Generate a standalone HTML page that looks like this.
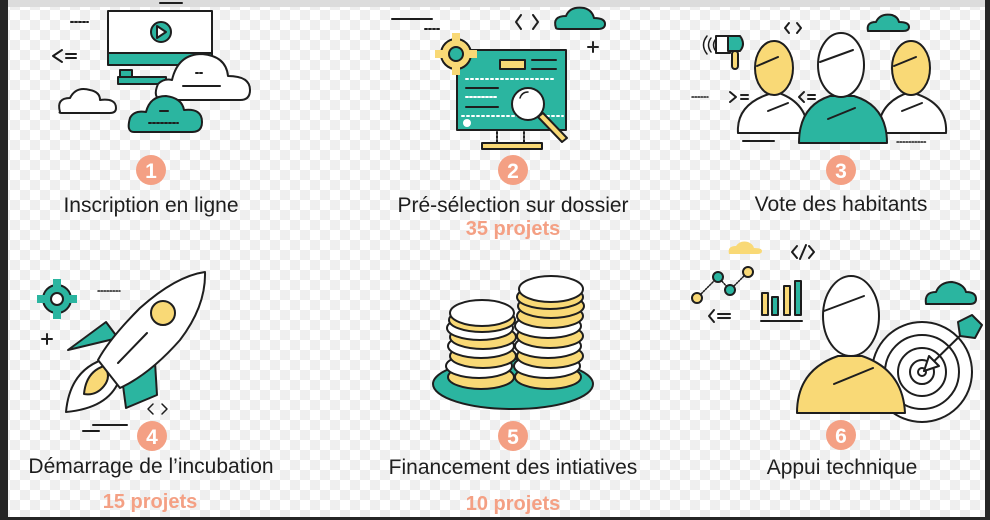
<!DOCTYPE html>
<html><head><meta charset="utf-8"><style>
html,body{margin:0;padding:0}
body{width:990px;height:520px;overflow:hidden;position:relative;
background-color:#fff;
background-image:linear-gradient(45deg,#efefef 25%,transparent 25%,transparent 75%,#efefef 75%),linear-gradient(45deg,#efefef 25%,transparent 25%,transparent 75%,#efefef 75%);
background-size:20px 20px;background-position:0 0,10px 10px;}
svg{position:absolute;left:0;top:0}
text{font-family:"Liberation Sans",sans-serif}
</style></head><body>
<svg width="990" height="520" viewBox="0 0 990 520">
<rect x="0" y="0" width="990" height="7" fill="#dcdcdc"/>
<rect x="0" y="0" width="8" height="520" fill="#262626"/>
<rect x="985" y="0" width="5" height="520" fill="#262626"/>
<rect x="0" y="517" width="990" height="3" fill="#262626"/>

<g stroke="#1e1e1e" stroke-width="2" stroke-linejoin="round" stroke-linecap="round">
<!-- Panel 1 -->
<line x1="160" y1="3" x2="182" y2="3"/>
<line x1="71" y1="22" x2="88" y2="22" stroke-dasharray="2 2"/>
<path d="M62 50 L53 56 L62 62" fill="none"/>
<line x1="66" y1="54" x2="76" y2="54"/><line x1="66" y1="58" x2="76" y2="58"/>
<rect x="120" y="70" width="12" height="10" fill="#2bb5a0"/>
<rect x="118" y="77" width="48" height="7" fill="#2bb5a0"/>
<rect x="108" y="11" width="104" height="44" fill="#fff"/>
<rect x="108" y="53" width="104" height="12" fill="#2bb5a0"/>
<circle cx="161" cy="32" r="10" fill="#2bb5a0"/>
<path d="M157 26 L166 32 L157 38 Z" fill="#fff"/>
<path d="M60 112 Q56 98 70 98 Q76 86 90 90 Q100 92 100 100 Q116 98 116 108 Q116 113 110 113 L64 113 Q58 113 60 112Z" fill="#fff"/>
<path d="M162 100 Q152 98 158 84 Q164 78 172 80 Q178 54 202 54 Q226 56 228 76 Q250 76 250 90 Q250 100 240 100 Z" fill="#fff"/>
<line x1="183" y1="86" x2="220" y2="86"/>
<line x1="196" y1="73" x2="204" y2="73" stroke-dasharray="2 2"/>
<path d="M134 132 Q126 132 130 118 Q134 110 146 112 Q150 96 166 96 Q182 98 184 110 Q202 108 202 122 Q202 132 192 132 Z" fill="#2bb5a0"/>
<line x1="160" y1="111" x2="168" y2="111"/>
<line x1="149" y1="123" x2="178" y2="123" stroke-dasharray="2 2"/>

<!-- Panel 2 -->
<line x1="392" y1="19" x2="432" y2="19"/>
<line x1="425" y1="29" x2="440" y2="29" stroke-dasharray="2 2"/>
<path d="M521 15 L516 22 L521 29 M533 15 L538 22 L533 29" fill="none"/>
<path d="M556 28 Q552 16 566 16 Q570 6 584 8 Q592 10 594 18 Q605 18 605 24 Q605 29 598 29 L560 29 Q556 29 556 28Z" fill="#2bb5a0"/>
<line x1="593" y1="42" x2="593" y2="52"/><line x1="588" y1="47" x2="598" y2="47"/>
<rect x="457" y="50" width="109" height="80" fill="#2bb5a0"/>
<g fill="#f9d976"><circle cx="456" cy="54" r="15"/>
<path d="M452 33h8v8h-8zM452 67h8v8h-8zM435 50h8v8h-8zM469 50h8v8h-8z" stroke="none"/>
</g>
<circle cx="456" cy="54" r="7" fill="#2bb5a0"/>
<rect x="500" y="60" width="25" height="9" fill="#f9d976"/>
<line x1="532" y1="60" x2="556" y2="60"/><line x1="532" y1="69" x2="556" y2="69"/>
<line x1="466" y1="79" x2="556" y2="79" stroke="#fff" stroke-dasharray="2 3"/>
<line x1="466" y1="88" x2="498" y2="88"/><line x1="466" y1="97" x2="496" y2="97" stroke="#fff" stroke-dasharray="2 2"/>
<line x1="466" y1="107" x2="498" y2="107"/>
<line x1="462" y1="116" x2="563" y2="116" stroke="#fff" stroke-dasharray="2 3"/>
<circle cx="467" cy="123" r="4" fill="#fff" stroke="none"/>
<line x1="497" y1="132" x2="497" y2="142" stroke-dasharray="2 2"/><line x1="524" y1="132" x2="524" y2="142" stroke-dasharray="2 2"/>
<rect x="482" y="143" width="60" height="6" fill="#f9d976"/>
<path d="M538 117 L562 142 L567 138 L543 113 Z" fill="#f9d976"/>
<circle cx="528" cy="104" r="16" fill="#fff"/>
<path d="M520 98 Q522 92 528 92" fill="none" stroke-width="1.5"/>

<!-- Panel 3 -->
<path d="M707 36 Q700 45 707 54 M711 38 Q706 45 711 52 M715 40 Q712 45 715 50" fill="none" stroke-width="1.5"/>
<path d="M716 36 L730 36 L730 53 L716 53 Z" fill="#fff"/>
<path d="M728 36 L740 36 Q746 44 740 51 L728 51 Z" fill="#2bb5a0"/>
<rect x="732" y="51" width="6" height="18" rx="3" fill="#f9d976"/>
<path d="M789 23 L785 28 L789 33 M797 23 L801 28 L797 33" fill="none"/>
<path d="M868 31 Q866 22 876 22 Q880 13 892 15 Q898 17 899 22 Q909 22 909 27 Q909 31 903 31 Z" fill="#2bb5a0"/>
<line x1="692" y1="97" x2="708" y2="97" stroke-dasharray="1.5 1.5" stroke-width="1.5"/>
<path d="M730 92 L736 97 L730 102" fill="none"/><line x1="741" y1="95" x2="748" y2="95"/><line x1="741" y1="99" x2="748" y2="99"/>
<path d="M738 133 Q736 102 776 92 Q808 102 808 133 Z" fill="#fff"/>
<path d="M878 133 Q878 102 910 92 Q948 102 946 133 Z" fill="#fff"/>
<ellipse cx="774" cy="68" rx="19" ry="27" fill="#f9d976"/>
<line x1="757" y1="66" x2="778" y2="57"/>
<line x1="768" y1="111" x2="788" y2="103"/>
<ellipse cx="911" cy="68" rx="19" ry="27" fill="#f9d976"/>
<line x1="894" y1="66" x2="916" y2="57"/>
<line x1="902" y1="111" x2="922" y2="103"/>
<path d="M799 143 Q799 106 830 96 L854 96 Q887 106 887 143 Z" fill="#2bb5a0"/>
<ellipse cx="841" cy="65" rx="23" ry="32" fill="#fff"/>
<line x1="820" y1="62" x2="853" y2="50"/>
<line x1="828" y1="119" x2="855" y2="108"/>
<path d="M804 92 L799 97 L804 102" fill="none"/><line x1="808" y1="95" x2="815" y2="95"/><line x1="808" y1="99" x2="815" y2="99"/>
<line x1="743" y1="141" x2="774" y2="141"/>
<line x1="897" y1="142" x2="927" y2="142" stroke-dasharray="1.5 1.5" stroke-width="1.5"/>

<!-- Panel 4 -->
<g fill="#2bb5a0"><circle cx="57" cy="299" r="14"/>
<path d="M53 279h8v8h-8zM53 311h8v8h-8zM37 295h8v8h-8zM69 295h8v8h-8z" stroke="none"/></g>
<circle cx="57" cy="299" r="6" fill="#fff"/>
<line x1="98" y1="291" x2="120" y2="291" stroke-dasharray="1.5 1.5" stroke-width="1.5"/>
<line x1="42" y1="339" x2="52" y2="339"/><line x1="47" y1="334" x2="47" y2="344"/>
<path d="M68 350 L106 322 L118 338 Z" fill="#2bb5a0"/>
<path d="M122 378 L155 362 L157 395 L126 408 Z" fill="#2bb5a0"/>
<path d="M108 358 Q70 368 66 412 Q110 408 120 378 Z" fill="#fff"/>
<path d="M84 394 Q86 372 104 366 Q112 376 104 386 Q96 396 84 394 Z" fill="#f9d976"/>
<path d="M205 272 Q176 276 140 308 Q110 338 98 360 L120 388 Q150 374 180 340 Q206 306 205 272 Z" fill="#fff"/>
<circle cx="163" cy="313" r="12" fill="#f9d976"/>
<line x1="118" y1="363" x2="147" y2="333"/>
<path d="M153 404 L148 409 L153 414 M162 404 L167 409 L162 414" fill="none" stroke-width="1.5"/>
<line x1="93" y1="425" x2="127" y2="425"/><line x1="83" y1="431" x2="99" y2="431"/>

<!-- Panel 5 -->
<ellipse cx="513" cy="384" rx="80" ry="25" fill="#2bb5a0"/>
<ellipse cx="481" cy="377" rx="33" ry="12" fill="#f9d976"/>
<ellipse cx="479" cy="366" rx="33" ry="12" fill="#fff"/>
<ellipse cx="483" cy="356" rx="33" ry="12" fill="#f9d976"/>
<ellipse cx="481" cy="346" rx="33" ry="12" fill="#fff"/>
<ellipse cx="483" cy="337" rx="33" ry="12" fill="#f9d976"/>
<ellipse cx="480" cy="328" rx="33" ry="12" fill="#fff"/>
<ellipse cx="482" cy="320" rx="33" ry="12" fill="#f9d976"/>
<ellipse cx="482" cy="313" rx="32" ry="13" fill="#fff"/>
<ellipse cx="548" cy="377" rx="33" ry="12" fill="#f9d976"/>
<ellipse cx="547" cy="366" rx="33" ry="12" fill="#fff"/>
<ellipse cx="550" cy="356" rx="33" ry="12" fill="#f9d976"/>
<ellipse cx="548" cy="346" rx="33" ry="12" fill="#fff"/>
<ellipse cx="550" cy="336" rx="33" ry="12" fill="#f9d976"/>
<ellipse cx="548" cy="326" rx="33" ry="12" fill="#fff"/>
<ellipse cx="550" cy="316" rx="33" ry="12" fill="#f9d976"/>
<ellipse cx="551" cy="306" rx="33" ry="12" fill="#f9d976"/>
<ellipse cx="550" cy="297" rx="33" ry="12" fill="#f9d976"/>
<ellipse cx="551" cy="289" rx="32" ry="13" fill="#fff"/>

<!-- Panel 6 -->
<path d="M729 254 Q727 246 736 246 Q740 240 748 242 Q753 244 754 248 Q762 248 762 251 Q762 254 757 254 Z" fill="#f9d976" stroke="none"/>
<path d="M797 246 L792 252 L797 258 M809 246 L814 252 L809 258" fill="none"/><line x1="806" y1="245" x2="800" y2="259"/>
<line x1="697" y1="298" x2="718" y2="277" stroke-dasharray="1.5 1.5" stroke-width="1.5"/>
<line x1="718" y1="277" x2="730" y2="290" stroke-dasharray="1.5 1.5" stroke-width="1.5"/>
<line x1="730" y1="290" x2="748" y2="272" stroke-dasharray="1.5 1.5" stroke-width="1.5"/>
<circle cx="697" cy="298" r="5" fill="#f9d976"/><circle cx="718" cy="277" r="5" fill="#2bb5a0"/>
<circle cx="730" cy="290" r="5" fill="#2bb5a0"/><circle cx="748" cy="272" r="5" fill="#f9d976"/>
<path d="M714 310 L709 316 L714 322" fill="none"/><line x1="718" y1="314" x2="730" y2="314"/><line x1="718" y1="318" x2="730" y2="318"/>
<rect x="762" y="293" width="6" height="22" fill="#f9d976"/><rect x="772" y="297" width="6" height="18" fill="#2bb5a0"/>
<rect x="784" y="286" width="6" height="29" fill="#f9d976"/><rect x="795" y="281" width="6" height="34" fill="#2bb5a0"/>
<line x1="761" y1="321" x2="802" y2="321"/>
<path d="M926 304 Q924 292 936 292 Q940 282 952 282 Q964 284 966 292 Q976 292 976 299 Q976 304 970 304 Z" fill="#2bb5a0"/>
<circle cx="922" cy="372" r="50" fill="#fff"/>
<circle cx="922" cy="372" r="37" fill="#fff"/>
<circle cx="922" cy="372" r="24" fill="#fff"/>
<circle cx="922" cy="372" r="12" fill="#fff"/>
<circle cx="922" cy="372" r="4" fill="#fff"/>
<path d="M797 413 Q797 370 838 356 L862 356 Q903 370 905 413 Z" fill="#f9d976"/>
<line x1="834" y1="384" x2="873" y2="368"/>
<ellipse cx="851" cy="316" rx="28" ry="40" fill="#fff"/>
<line x1="824" y1="311" x2="864" y2="296"/>
<line x1="924" y1="371" x2="966" y2="330"/>
<path d="M924 371 L929 356 L939 366 Z" fill="#fff"/>
<path d="M960 336 L958 322 L972 315 L982 325 L975 338 Z" fill="#2bb5a0"/>
</g>

<g fill="#f4a084">
<circle cx="151" cy="170" r="15"/><circle cx="513" cy="170" r="15"/><circle cx="841" cy="170" r="15"/>
<circle cx="152" cy="436" r="15"/><circle cx="513" cy="436" r="15"/><circle cx="841" cy="435" r="15"/>
</g>
<g fill="#fff" font-size="21" font-weight="bold" text-anchor="middle">
<text x="151" y="178">1</text><text x="513" y="178">2</text><text x="841" y="178">3</text>
<text x="152" y="444">4</text><text x="513" y="444">5</text><text x="841" y="443">6</text>
</g>
<g fill="#1e1e1e" font-size="21" text-anchor="middle">
<text x="151" y="212">Inscription en ligne</text>
<text x="513" y="212">Pré-sélection sur dossier</text>
<text x="841" y="211">Vote des habitants</text>
<text x="151" y="473">Démarrage de l’incubation</text>
<text x="513" y="474">Financement des intiatives</text>
<text x="842" y="474">Appui technique</text>
</g>
<g fill="#f4a084" font-size="20" font-weight="bold" text-anchor="middle">
<text x="513" y="235">35 projets</text>
<text x="150" y="508">15 projets</text>
<text x="513" y="510">10 projets</text>
</g>
</svg>
</body></html>
